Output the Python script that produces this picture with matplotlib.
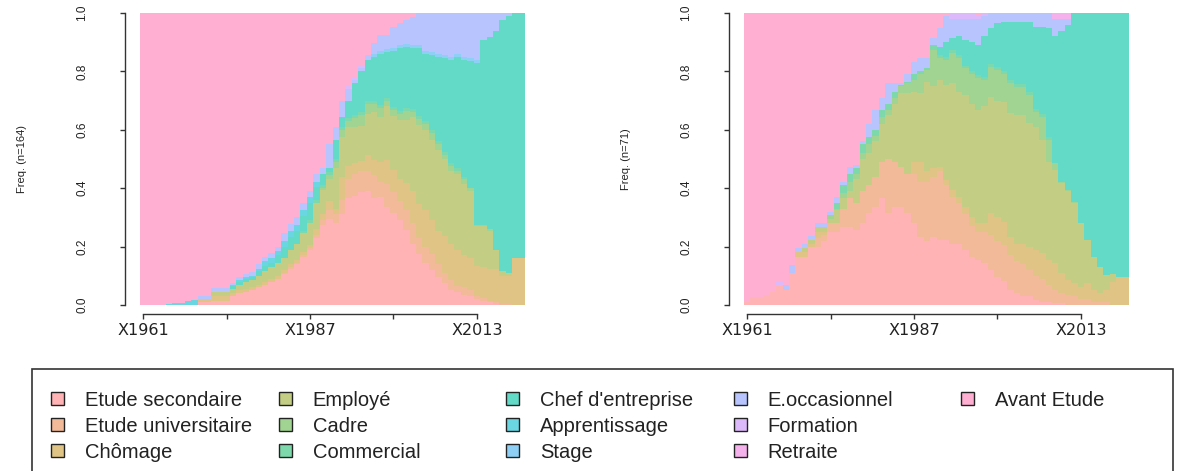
import numpy as np
import matplotlib
matplotlib.use("Agg")
import matplotlib.pyplot as plt
from matplotlib.patches import Rectangle

# ---------------- data ----------------
states = ["Etude secondaire", "Etude universitaire", "Chômage", "Employé", "Cadre",
          "Commercial", "Chef d'entreprise", "Apprentissage", "Stage", "E.occasionnel",
          "Formation", "Retraite", "Avant Etude"]

tick_labels = ["X1961", "", "X1987", "", "X2013"]
n_left = 164
n_right = 71

# Left panel (n=164): share (%) of each state for the 60 yearly columns X1961..X2020
l_sec = [0, 0, 0, 0, 0, 0, 0, 0, 0, 1,
         1, 1.5, 1.5, 1.5, 3, 4, 4.5, 5, 6, 7,
         8, 9, 10.5, 12.5, 14, 16.5, 19, 23, 27.5, 29.5,
         28, 31, 36.5, 37.5, 39, 39, 36.5, 37, 33.5, 31.5,
         29, 25.5, 21, 17.5, 14.5, 12, 9.5, 7.5, 5, 4.5,
         3.5, 3, 2, 1.5, 1, 0.5, 0, 0, 0, 0]
l_univ = [0, 0, 0, 0, 0, 0, 0, 0, 0, 0,
          0, 0, 0, 0, 0, 0, 0, 0, 0, 0,
          0, 0, 0.5, 0.5, 0.5, 0.5, 0.5, 1, 1.5, 3,
          3, 5, 6.5, 7.5, 7, 7, 8, 5, 8, 7.5,
          6.5, 7, 7, 5.5, 5.5, 5.5, 4.5, 3.5, 3.5, 2,
          2.5, 2, 1, 1, 0.5, 0.5, 0.5, 0.5, 0, 0]
l_chom = [0, 0, 0, 0, 0, 0, 0, 0, 0, 1,
          1, 1.5, 1.5, 1.5, 1, 1, 1, 1, 1, 1,
          1, 1, 1, 1, 1, 1, 1, 2, 2, 3,
          2, 8, 4.5, 3.5, 3.5, 5.5, 5, 7, 8, 7.5,
          7.5, 9, 11, 11.5, 12.5, 11.5, 11.5, 12.5, 12.5, 12.5,
          11, 11, 10.5, 10.5, 11, 11.5, 9.5, 9.5, 16, 16]
l_empl = [0, 0, 0, 0, 0, 0, 0, 0, 0, 0,
          0, 1.5, 1.5, 1.5, 1.5, 2, 2.5, 2.5, 3, 3.5,
          4, 4.5, 4, 5, 5.5, 6.5, 7.5, 9, 8.5, 7.5,
          14, 13.5, 13.5, 12.5, 12, 14, 16.5, 15.5, 18.5, 18.5,
          20.5, 21.5, 25.5, 27, 27.5, 27.5, 27.5, 26.5, 25, 26,
          24.5, 23, 13.5, 14, 13, 6.5, 1.5, 1, 0, 0]
l_cadre = [0, 0, 0, 0, 0, 0, 0, 0, 0, 0,
           0, 0, 0, 0, 0, 0, 0, 0, 0, 0,
           0, 0, 0, 0, 0, 0, 0, 0, 0.5, 1.5,
           2, 2.5, 2, 3, 4, 3.5, 3, 3, 2, 2,
           2, 3, 1.5, 2, 2, 2.5, 2, 1.5, 1.5, 1,
           1.5, 1, 0.5, 0.5, 0.5, 0, 0, 0, 0, 0]
l_comm = [0, 0, 0, 0, 0, 0, 0, 0, 0, 0,
          0, 0, 0, 0, 0, 0, 0, 0, 0, 0,
          0, 0, 0, 0, 0, 1, 1, 1, 1, 1,
          1, 1, 1, 1, 1, 1, 1, 1, 1, 1,
          1, 1, 1, 1, 1, 1, 1, 1, 1, 1,
          1, 0, 0, 0, 0, 0, 0, 0, 0, 0]
l_chef = [0, 0, 0, 0, 0, 0, 0, 0, 0, 0,
          0, 0, 0, 0, 1, 1, 1, 1, 1.5, 2,
          1.5, 2.5, 4, 4.5, 4.5, 5, 6, 4.5, 4, 1.5,
          6.5, 3.5, 6, 11, 14, 14, 15, 17.5, 15.5, 19.5,
          21.5, 21, 21, 23, 23, 25.5, 29, 32, 35.5, 38,
          40, 43.5, 55.5, 63, 66, 75, 86, 88, 84, 84]
l_appr = [0, 0, 0, 0, 0.3, 0.6, 0.6, 1.2, 1.7, 0,
          0, 0, 0, 0, 0.5, 0.5, 0.5, 0.5, 1, 1.5,
          1.5, 1.5, 2, 2, 2, 2, 2, 1.5, 0, 0,
          0, 0, 0, 0, 0, 0, 0, 0, 0, 0,
          0, 0, 0, 0, 0, 0, 0, 0, 0, 0,
          0, 0, 0, 0, 0, 0, 0, 0, 0, 0]
l_stage = [0, 0, 0, 0, 0, 0, 0, 0, 0, 0,
           0, 0, 0, 0, 0, 0, 0, 0, 0, 0,
           0, 0, 0, 0, 0, 0, 0, 0, 0, 0,
           0, 0, 0, 0, 0, 0, 1, 1, 1, 1,
           1, 1, 1, 1, 1, 1, 1, 1, 1, 1,
           1, 1, 1, 0, 0, 0, 0, 0, 0, 0]
l_eocc = [0, 0, 0, 0, 0, 0, 0, 0, 0, 1,
          1, 1.2, 1.2, 1.2, 0.5, 1.2, 1.2, 1.3, 1.5, 1.5,
          1.7, 1.5, 2.5, 2.4, 2.5, 2.5, 2, 3, 2, 8,
          4.5, 5.5, 4, 1, 1, 1.6, 3.6, 5.5, 5, 7.3,
          7.5, 8.1, 9.7, 11, 13, 13.5, 14, 14.5, 15, 14,
          15, 15.5, 16, 9.4, 8.2, 6, 2.5, 1, 0, 0]
l_form = [0, 0, 0, 0, 0, 0, 0, 0, 0, 0,
          0, 0, 0, 0, 0, 0, 0, 0, 0, 0,
          0, 0, 0, 0, 0, 0, 0, 0, 0, 0,
          0, 0, 1, 1, 1, 0, 0, 0, 0, 0,
          0, 0, 0, 0, 0, 0, 0, 0, 0, 0,
          0, 0, 0, 0, 0, 0, 0, 0, 0, 0]
l_retr = [0, 0, 0, 0, 0, 0, 0, 0, 0, 0,
          0, 0, 0, 0, 0, 0, 0, 0, 0, 0,
          0, 0, 0, 0, 0, 0, 0, 0, 0, 0,
          0, 0, 0, 0, 0, 0, 0, 0, 0, 0,
          0, 0, 0, 0, 0, 0, 0, 0, 0, 0,
          0, 0, 0, 0, 0, 0, 0, 0, 0, 0]
l_avant = [100, 100, 100, 100, 99.7, 99.4, 99.4, 98.8, 98.3, 97,
           97, 94.3, 94, 94, 92.5, 90.3, 89.3, 88.7, 86, 83.5,
           82.3, 80, 75.5, 72.6, 70, 65, 61, 55, 53, 45,
           39, 30, 25, 22, 18, 14.4, 10.4, 7.5, 7.5, 4.7,
           3.5, 2.4, 1.3, 0, 0, 0, 0, 0, 0, 0,
           0, 0, 0, 0, 0, 0, 0, 0, 0, 0]

# Right panel (n=71)
r_sec = [1, 2.6, 2.6, 3.4, 4.6, 6.5, 5, 10.8, 16.6, 16.6,
         20, 19.7, 22, 25, 25, 26.8, 26.8, 25.7, 28, 31.4,
         33.7, 36.5, 31.4, 33.7, 33.7, 31.4, 28, 23.4, 22, 23.4,
         22.3, 22.3, 21, 21, 19, 16.6, 15.4, 14.3, 12, 9.7,
         8, 5, 4, 3, 3, 1.7, 1.1, 1.1, 0.6, 0.6,
         0, 0, 0, 0, 0, 0, 0, 0, 0, 0]
r_univ = [0, 0, 0, 0, 0, 0, 0, 0, 0, 0,
          0, 3.1, 2, 3, 3, 6.2, 9.7, 9.3, 11, 9.6,
          10.3, 12.5, 18.6, 15.3, 13.7, 13.6, 17, 18.6, 20, 20.6,
          23.7, 18.7, 16, 14, 12, 10.4, 9.6, 10.7, 12, 12.3,
          12, 12, 11, 11, 9, 8.3, 7.9, 5.9, 4.4, 3.4,
          3.5, 3, 2, 2, 1, 1, 1, 0, 0, 0]
r_chom = [0, 0, 0, 0, 0, 0, 0, 0, 1.7, 1.4,
          1, 2.3, 1, 0, 0, 0, 0, 0, 0, 0,
          0, 0, 0, 0, 0, 0, 4, 7, 4, 3,
          1.4, 1.8, 2.4, 2, 2.7, 3, 3, 3, 7.4, 8,
          8, 6.4, 6, 7, 8, 8.8, 8.7, 8.4, 9.3, 6.8,
          5.1, 4.4, 4.3, 5.4, 4, 3, 4, 8, 9.7, 9.7]
r_empl = [0, 0, 0, 0, 0, 0, 0, 0, 0, 1.5,
          1.2, 1.5, 1.6, 1.5, 4.5, 3.5, 2.5, 8, 11, 11,
          12, 13, 15, 20, 25.1, 27.5, 24, 23.5, 30.5, 28,
          29.6, 32.5, 36.6, 36, 38.3, 39, 38.8, 40, 39.9, 40,
          40, 42.2, 44, 44, 42.2, 42.2, 38.8, 33.6, 31.9, 30.9,
          30.4, 27.4, 21.7, 14.9, 11.6, 9.1, 5.3, 2.5, 0, 0]
r_cadre = [0, 0, 0, 0, 0, 0, 0, 0, 0, 0,
           0, 0, 0, 1.3, 0.5, 2, 3, 2, 2, 3,
           2, 2.5, 1.8, 2, 2.5, 3.5, 4, 6.5, 4, 12.5,
           7.5, 8.7, 10.2, 11.5, 9, 10, 10.8, 9, 10.3, 10.5,
           9.6, 10.4, 9.8, 9.8, 9.8, 5, 8, 7.5, 2.3, 0.5,
           0.4, 0.6, 0, 0, 0, 0, 0, 0, 0, 0]
r_comm = [0, 0, 0, 0, 0, 0, 0, 0, 0, 0,
          0, 0, 0, 0, 2, 2.5, 3, 2, 3, 2.6,
          2, 2.3, 2.2, 2, 0.5, 0.5, 2, 1, 0.5, 1.5,
          1, 1, 1, 1, 1, 1, 1, 1, 1, 1,
          1, 1, 1, 1, 1, 1, 1, 1, 0, 0,
          0, 0, 0, 0, 0, 0, 0, 0, 0, 0]
r_chef = [0, 0, 0, 0, 0, 0, 0, 0, 0, 0,
          0, 0, 0, 0, 0, 0, 0, 0, 0, 0,
          0, 0, 0, 0, 0, 0, 0, 0, 0, 0,
          3, 5, 4.1, 6.5, 8.7, 10, 10.4, 14, 12.1, 15,
          16.4, 20, 21.2, 21.2, 24, 28.3, 29.8, 37.2, 43.5, 51.8,
          56.6, 64.6, 72, 77.7, 83.4, 86.9, 89.7, 89.5, 90.3, 90.3]
r_appr = [0, 0, 0, 0, 0, 0, 0, 0, 0, 0,
          0, 0, 0, 0, 0, 0, 0, 0, 0, 0,
          0, 0, 0, 0, 0, 0, 0, 0, 0, 0,
          0, 0, 0, 0, 0, 0, 0, 0, 0, 0,
          0, 0, 0, 0, 0, 0, 0, 0, 0, 0,
          0, 0, 0, 0, 0, 0, 0, 0, 0, 0]
r_stage = [0, 0, 0, 0, 0, 0, 0, 0, 0, 0,
           0, 0, 0, 0, 0, 0, 0, 0, 0, 0,
           0, 0, 0, 0, 0, 0, 0, 0, 0, 0,
           0, 0, 0, 0, 0, 0, 0, 0, 0, 0,
           0, 0, 0, 0, 0, 0, 0, 0, 0, 0,
           0, 0, 0, 0, 0, 0, 0, 0, 0, 0]
r_eocc = [0, 0, 0, 0, 0, 0, 1.8, 2.9, 1.3, 1.5,
          1.4, 1.4, 1.4, 1.2, 2, 1, 2.4, 1, 1, 4.4,
          6.8, 4.2, 7, 3, 0.5, 2.5, 4.3, 4.5, 3.5, 2.3,
          6.5, 9, 6.7, 6, 7.3, 8, 9, 7, 5.3, 3.5,
          3, 3, 3, 3, 3, 4.7, 4.7, 5.3, 6, 4,
          2, 0, 0, 0, 0, 0, 0, 0, 0, 0]
r_form = [0, 0, 0, 0, 0, 1.5, 0, 0, 0, 0,
          0, 0, 0, 0, 0, 0, 0, 0, 0, 0,
          0, 0, 0, 0, 0, 0, 0, 0, 0, 0,
          0, 0, 2, 2, 2, 2, 1, 1, 0, 0,
          0, 0, 0, 0, 0, 0, 0, 0, 0, 0,
          0, 0, 0, 0, 0, 0, 0, 0, 0, 0]
r_retr = [0, 0, 0, 0, 0, 0, 0, 0, 0, 0,
          0, 0, 0, 0, 0, 0, 0, 0, 0, 0,
          0, 0, 0, 0, 0, 0, 0, 0, 0, 0,
          0, 0, 0, 0, 0, 0, 0, 0, 0, 0,
          0, 0, 0, 0, 0, 0, 0, 0, 2, 2,
          2, 0, 0, 0, 0, 0, 0, 0, 0, 0]
r_avant = [99, 97.4, 97.4, 96.6, 95.4, 92, 93.2, 86.3, 80.4, 79,
           76.4, 72, 72, 68, 63, 58, 52.6, 52, 44, 38,
           33.2, 29, 24, 24, 24, 21, 16.7, 15.5, 15.5, 8.7,
           5, 1, 0, 0, 0, 0, 1, 0, 0, 0,
           0, 0, 0, 0, 0, 0, 0, 0, 0, 0,
           0, 0, 0, 0, 0, 0, 0, 0, 0, 0]

left_data = [l_sec, l_univ, l_chom, l_empl, l_cadre, l_comm, l_chef,
             l_appr, l_stage, l_eocc, l_form, l_retr, l_avant]
right_data = [r_sec, r_univ, r_chom, r_empl, r_cadre, r_comm, r_chef,
              r_appr, r_stage, r_eocc, r_form, r_retr, r_avant]
for row in left_data + right_data:
    assert len(row) == 60, len(row)


# ---------------- colours: qualitative HCL palette (c=50, l=80) ----------------
def hcl_to_rgb(h, c, l):
    Xn, Yn, Zn = 95.047, 100.0, 108.883
    hr = np.deg2rad(h)
    U, V = c * np.cos(hr), c * np.sin(hr)
    Y = Yn * ((l + 16) / 116) ** 3 if l > 8 else Yn * l / 903.3
    den = Xn + 15 * Yn + 3 * Zn
    un, vn = 4 * Xn / den, 9 * Yn / den
    u, v = U / (13 * l) + un, V / (13 * l) + vn
    X = 9.0 * Y * u / (4 * v)
    Z = -X / 3 - 5 * Y + 3 * Y / v
    X, Y, Z = X / 100, Y / 100, Z / 100
    r = 3.240479 * X - 1.537150 * Y - 0.498535 * Z
    g = -0.969256 * X + 1.875992 * Y + 0.041556 * Z
    b = 0.055648 * X - 0.204043 * Y + 1.057311 * Z

    def gam(t):
        t = min(max(t, 0.0), 1.0)
        return 12.92 * t if t <= 0.0031308 else 1.055 * t ** (1 / 2.4) - 0.055
    return (gam(r), gam(g), gam(b))


n_states = len(states)
colors = [hcl_to_rgb(10 + 360.0 * i / n_states, 50, 80) for i in range(n_states)]

# ---------------- figure ----------------
W, H = 1179, 471
fig = plt.figure(figsize=(W / 100, H / 100), dpi=100)
fig.patch.set_facecolor("white")

PX = 72.0 / 100.0  # points per pixel
PANEL_W = 385


def draw_panel(left_px, data, n):
    ax = fig.add_axes([left_px / W, (H - 305) / H, PANEL_W / W, 292 / H])
    M = np.array(data, dtype=float)
    M = M / M.sum(axis=0)
    cum = np.cumsum(M, axis=0)
    edges = np.arange(M.shape[1] + 1)
    # draw from the top state downwards, each from 0 to its cumulative top (no seams)
    for k in range(n_states - 1, -1, -1):
        ax.stairs(cum[k], edges, baseline=0, fill=True, color=colors[k],
                  linewidth=0, antialiased=False)
    ax.set_xlim(0, M.shape[1])
    ax.set_ylim(0, 1)
    for s in ["top", "right"]:
        ax.spines[s].set_visible(False)
    ax.spines["left"].set_position(("outward", 15.5 * PX))
    ax.spines["bottom"].set_position(("outward", 8.5 * PX))
    ax.spines["left"].set_bounds(0, 1)
    tick_pos = [0.5, 13.5, 26.5, 39.5, 52.5]
    ax.spines["bottom"].set_bounds(tick_pos[0], tick_pos[-1])
    for s in ["left", "bottom"]:
        ax.spines[s].set_color("#333333")
        ax.spines[s].set_linewidth(1.0)
    ax.set_xticks(tick_pos)
    ax.set_xticklabels(tick_labels, fontsize=11.5, family="DejaVu Sans", color="#222222")
    yt = [0.0, 0.2, 0.4, 0.6, 0.8, 1.0]
    ax.set_yticks(yt)
    ax.set_yticklabels([f"{v:.1f}" for v in yt], fontsize=8.5,
                       family="Liberation Sans", color="#222222",
                       rotation=90, va="center")
    ax.tick_params(axis="x", direction="out", length=5 * PX, width=1.0,
                   color="#333333", pad=4.5 * PX)
    ax.tick_params(axis="y", direction="out", length=5 * PX, width=1.0,
                   color="#333333", pad=31 * PX)
    ax.set_ylabel(f"Freq. (n={n})", fontsize=8, family="Liberation Sans",
                  color="#222222")
    ax.yaxis.label.set_verticalalignment("center")
    # label centre sits 118 px left of the bar area
    ax.yaxis.set_label_coords(-118 / PANEL_W, 0.5)
    return ax


draw_panel(140, left_data, n_left)
draw_panel(744, right_data, n_right)

# ---------------- legend ----------------
fig.add_artist(Rectangle((32 / W, -0.05), (1173 - 32) / W, 0.05 + (H - 369) / H,
                         transform=fig.transFigure, fill=False,
                         edgecolor="#333333", linewidth=1.2, clip_on=False))
for k, name in enumerate(states):
    col, row = divmod(k, 3)
    tx = 85 + 227.5 * col
    base = 406 + 26 * row
    fig.add_artist(Rectangle(((tx - 34) / W, (H - base + 1) / H), 13 / W, 13 / H,
                             transform=fig.transFigure, facecolor=colors[k],
                             edgecolor="#222222", linewidth=1.0))
    fig.text(tx / W, (H - base) / H, name, fontsize=14.5, family="Liberation Sans",
             color="#222222", ha="left", va="baseline")

fig.savefig("out.png", dpi=100, facecolor="white")
